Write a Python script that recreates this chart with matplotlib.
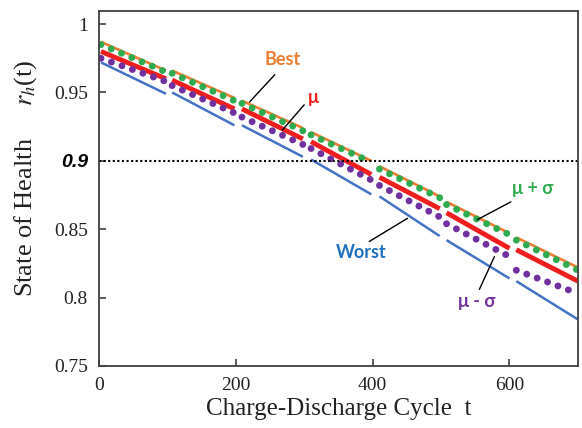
import numpy as np
import matplotlib.pyplot as plt

# cycle segments (each 100 cycles, with small gaps between)
seg_t0 = [3, 107, 209, 310, 410, 508, 610]
seg_t1 = [98, 198, 298, 398, 498, 600, 700]

# start / end value of each segment
best_0 = [0.987, 0.966, 0.944, 0.921, 0.896, 0.870, 0.844]
best_1 = [0.966, 0.946, 0.924, 0.900, 0.874, 0.847, 0.822]
plus_0 = [0.985, 0.964, 0.942, 0.919, 0.894, 0.868, 0.842]
plus_1 = [0.965, 0.944, 0.922, 0.899, 0.873, 0.846, 0.820]
mu_0 = [0.980, 0.959, 0.938, 0.914, 0.888, 0.862, 0.835]
mu_1 = [0.960, 0.938, 0.916, 0.890, 0.865, 0.836, 0.812]
minus_0 = [0.975, 0.955, 0.932, 0.909, 0.882, 0.854, 0.820]
minus_1 = [0.958, 0.935, 0.912, 0.886, 0.859, 0.830, 0.803]
worst_0 = [0.972, 0.950, 0.926, 0.901, 0.874, 0.842, 0.812]
worst_1 = [0.949, 0.926, 0.903, 0.8755, 0.845, 0.814, 0.784]

threshold = 0.9

# label text, text position, leader line (from -> to)
labels = ['Best', 'μ', 'μ + σ', 'Worst', 'μ - σ']
label_xy = [(268, 0.974), (314, 0.946), (634, 0.880), (383, 0.833), (552, 0.797)]
leader_from = [(257, 0.963), (300, 0.941), (602, 0.870), (395, 0.841), (556, 0.806)]
leader_to = [(220, 0.943), (268, 0.9225), (553, 0.857), (451, 0.858), (578, 0.830)]

c_best = '#ED7D31'
c_plus = '#2EAA4F'
c_mu = '#F01E1E'
c_minus = '#7030A0'
c_worst = '#4472C4'
label_colors = [c_best, c_mu, c_plus, '#1F6FC0', c_minus]

plt.rcParams['mathtext.fontset'] = 'stix'

fig = plt.figure(figsize=(5.82, 4.28), dpi=100)
ax = fig.add_axes([0.170, 0.145, 0.823, 0.829])

for i in range(len(seg_t0)):
    t = [seg_t0[i], seg_t1[i]]
    ax.plot(t, [worst_0[i], worst_1[i]], color=c_worst, lw=1.8, solid_capstyle='butt')
    ax.plot(t, [best_0[i], best_1[i]], color=c_best, lw=1.9, solid_capstyle='butt')
    ax.plot(t, [mu_0[i], mu_1[i]], color=c_mu, lw=3.5, solid_capstyle='butt')
    # dotted series
    ax.plot(t, [plus_0[i], plus_1[i]], color=c_plus, lw=5,
            ls=(0, (0.001, 1.6)), dash_capstyle='round')
    ax.plot(t, [minus_0[i], minus_1[i]], color=c_minus, lw=5,
            ls=(0, (0.001, 1.6)), dash_capstyle='round')

ax.axhline(threshold, color='black', lw=1.5, ls=(0, (1, 1.2)))

for i in range(len(labels)):
    ax.annotate('', xy=leader_to[i], xytext=leader_from[i],
                arrowprops=dict(arrowstyle='-', color='black', lw=1, shrinkA=0, shrinkB=0))
    ax.text(label_xy[i][0], label_xy[i][1], labels[i], color=label_colors[i],
            fontsize=13, fontweight='bold', family='Lato', ha='center', va='center')

ax.set_xlim(0, 700)
ax.set_ylim(0.75, 1.0095)
ax.set_xticks([0, 200, 400, 600])
ax.set_yticks([0.75, 0.8, 0.85, 0.9, 0.95, 1.0])
ax.set_yticklabels(['0.75', '0.8', '0.85', '0.9', '0.95', '1'])
ax.tick_params(direction='in', length=5, width=1.2, color='#404040', pad=8)
for lbl in ax.get_xticklabels() + ax.get_yticklabels():
    lbl.set_family('Liberation Serif')
    lbl.set_fontsize(14)
    lbl.set_color('#222222')
nine = ax.get_yticklabels()[3]
nine.set_family('Liberation Sans')
nine.set_fontweight('bold')
nine.set_style('italic')
nine.set_color('black')

for s in ax.spines.values():
    s.set_color('#404040')
    s.set_linewidth(1.3)

ax.set_xlabel('Charge-Discharge Cycle  t', family='Liberation Serif', fontsize=18,
              color='#222222', labelpad=3)
ax.set_ylabel('State of Health     $r_h$(t)', family='Liberation Serif',
              fontsize=19, color='#222222', labelpad=10)
ax.yaxis.set_label_coords(-0.125, 0.53)

fig.savefig('out.png', dpi=100)
